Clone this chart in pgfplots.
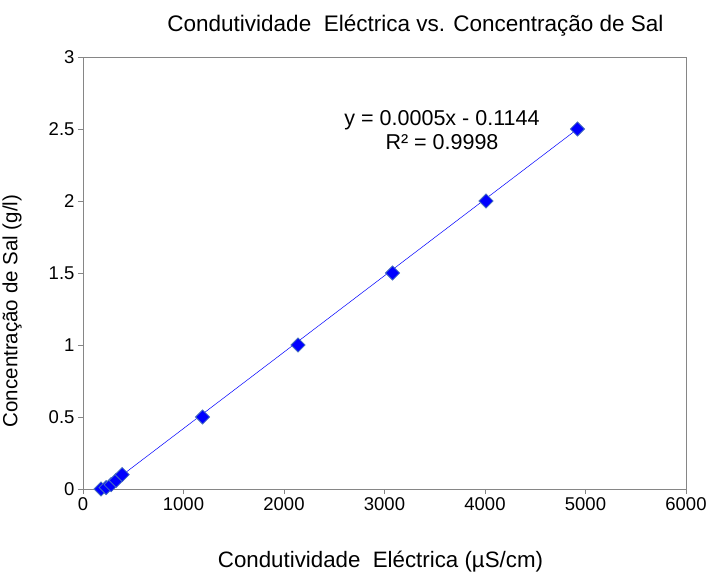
\documentclass[border=0pt]{standalone}
\usepackage{fontspec}
\setmainfont{Liberation Sans}
\usepackage{pgfplots}
\pgfplotsset{compat=1.18}
\definecolor{axgray}{RGB}{134,134,134}
\definecolor{mkedge}{RGB}{70,110,190}
\begin{document}
\begin{tikzpicture}
% invisible frame sets the page to 711 x 572
\path[use as bounding box] (-83pt,-83pt) rectangle (628pt,489pt);
\begin{axis}[
  at={(0,0)}, anchor=south west,
  scale only axis, width=603pt, height=432pt,
  xmin=0, xmax=6000, ymin=0, ymax=3,
  xtick={0,1000,...,6000}, ytick={0,0.5,...,3},
  yticklabels={0,0.5,1,1.5,2,2.5,3},
  axis line style={axgray}, tick style={axgray},
  tick align=outside, tick pos=left,
  major tick length=5pt,
  scaled x ticks=false,
  xticklabel style={font=\fontsize{18.5}{20}\selectfont},
  yticklabel style={font=\fontsize{18.5}{20}\selectfont},
  /pgf/number format/assume math mode=true,
  /pgf/number format/1000 sep={},
  xlabel={Condutividade\ \ Eléctrica (µS/cm)},
  ylabel={Concentração de Sal (g/l)},
  xlabel style={font=\fontsize{22.3}{25}\selectfont, at={(axis description cs:0.5,0)}, anchor=center, xshift=-4pt, yshift=-73pt},
  ylabel style={font=\fontsize{20.5}{23}\selectfont, at={(axis description cs:0,0.5)}, anchor=center, xshift=-38pt, yshift=71pt},
  title={Condutividade\ \ Eléctrica vs. Concentração de Sal},
  title style={font=\fontsize{22.5}{25}\selectfont, at={(axis description cs:0.5,1)}, anchor=center, xshift=31pt, yshift=25pt},
  clip=false,
]
% trendline
\addplot[blue, line width=0.5pt] coordinates {(180,-0.015) (4920,2.5)};
% data
\addplot[only marks, mark=square*, mark size=5pt,
  mark options={rotate=45, fill=blue, draw=mkedge, line width=0.8pt}]
  coordinates {(180,0) (230,0.01) (280,0.03) (330,0.06) (390,0.1)
               (1190,0.5) (2140,1.0) (3080,1.5) (4010,2.0) (4920,2.5)};
\node[font=\fontsize{21.5}{24}\selectfont, align=center] at (axis cs:3572,2.49)
  {y = 0.0005x - 0.1144\\R² = 0.9998};
\end{axis}
\end{tikzpicture}
\end{document}
